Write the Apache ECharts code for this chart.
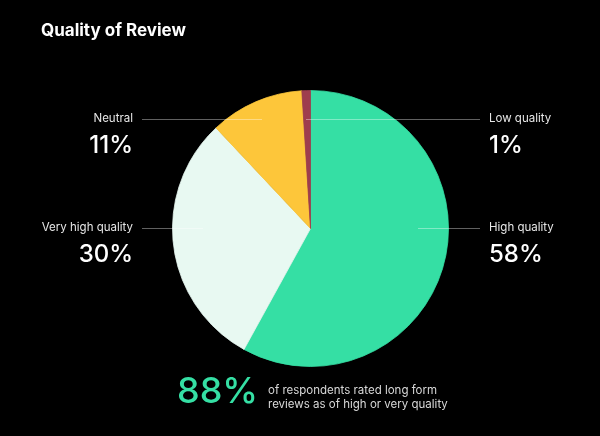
<!DOCTYPE html>
<html>
<head>
<meta charset="utf-8">
<script src="https://cdn.jsdelivr.net/npm/echarts@6/dist/echarts.min.js"></script>
<style>
html,body{margin:0;padding:0;background:#000;}
#c{width:600px;height:436px;}
</style>
</head>
<body>
<div id="c"></div>
<script>
// ---- data ----
const categories = ['High quality', 'Very high quality', 'Neutral', 'Low quality'];
const values = [58, 30, 11, 1];
const sliceColors = ['#35dfa4', '#e8f9f2', '#fdc63a', '#9e3d4e'];
const calloutValue = '88%';
const calloutText = ['of respondents rated long form', 'reviews as of high or very quality'];

// ---- label layout (pixel positions of callouts) ----
const labelLayoutTable = [
  { side: 1,  lineY: 228, innerX: 418 },  // High quality
  { side: -1, lineY: 228, innerX: 203 },  // Very high quality
  { side: -1, lineY: 119, innerX: 262 },  // Neutral
  { side: 1,  lineY: 119, innerX: 306 }   // Low quality
];
const LEFT_LABEL_X = 133, RIGHT_LABEL_X = 489;
const LEFT_LINE_X = 142, RIGHT_LINE_X = 480;
const FONT = 'Inter, "Noto Sans", sans-serif';

const guideLines = labelLayoutTable.map(L => ({
  type: 'line', z: 100, silent: true,
  shape: { x1: L.innerX, y1: L.lineY + 0.5, x2: L.side > 0 ? RIGHT_LINE_X : LEFT_LINE_X, y2: L.lineY + 0.5 },
  style: { stroke: 'rgba(255,255,255,0.38)', lineWidth: 1 }
}));

const chart = echarts.init(document.getElementById('c'), null, { renderer: 'canvas' });
chart.setOption({
  backgroundColor: '#000',
  animation: false,
  title: {
    text: 'Quality of Review',
    left: 36, top: 17,
    textStyle: { color: '#fff', fontSize: 17, fontWeight: 'bold', fontFamily: FONT }
  },
  graphic: [
    {
      type: 'text', left: 177, top: 374, z: 100,
      style: { text: calloutValue, fill: '#35dfa4', font: '500 36px ' + FONT }
    },
    {
      type: 'text', left: 268, top: 384, z: 100,
      style: { text: calloutText.join('\n'), fill: '#d8d8d8', font: '11.5px ' + FONT, lineHeight: 14 }
    }
  ].concat(guideLines),
  series: [{
    type: 'pie',
    center: [310.5, 228.5],
    radius: [0, 138],
    startAngle: 90,
    clockwise: true,
    silent: true,
    data: categories.map((n, i) => ({ name: n, value: values[i], itemStyle: { color: sliceColors[i], borderColor: sliceColors[i], borderWidth: 0.8 } })),
    label: {
      show: true,
      formatter: p => '{n|' + p.name + '}\n{v|' + p.value + '%}',
      rich: {
        n: { fontSize: 11.5, color: '#e6e6e6', fontFamily: FONT, lineHeight: 16 },
        v: { fontSize: 24, color: '#fff', fontWeight: 500, fontFamily: FONT, lineHeight: 38 }
      }
    },
    labelLine: { show: false },
    labelLayout: function (params) {
      const L = labelLayoutTable[params.dataIndex];
      const right = L.side > 0;
      return {
        x: right ? RIGHT_LABEL_X : LEFT_LABEL_X,
        y: L.lineY - 8,
        align: right ? 'left' : 'right',
        verticalAlign: 'top'
      };
    }
  }]
});
</script>
</body>
</html>
